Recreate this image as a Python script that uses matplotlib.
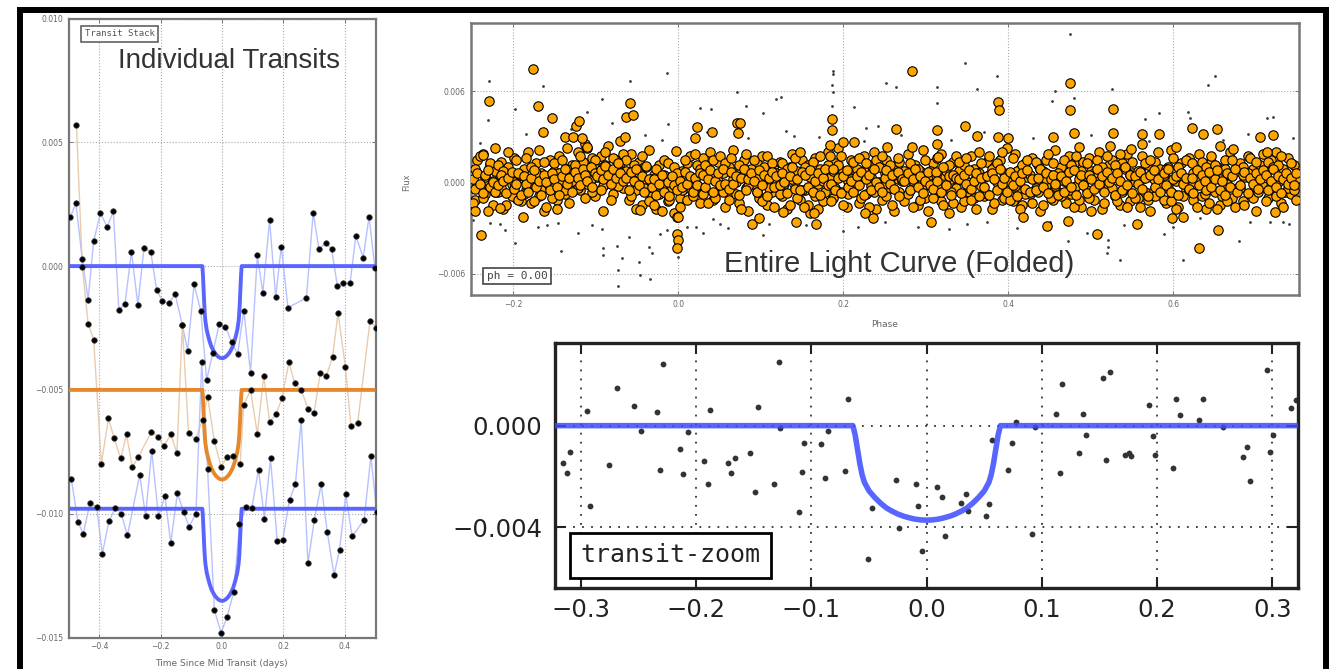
import numpy as np
import matplotlib
matplotlib.use("Agg")
import matplotlib.pyplot as plt
from matplotlib.patches import Rectangle

plt.rcParams['font.family'] = ['DejaVu Sans']
plt.rcParams['axes.unicode_minus'] = True

# ======================= DATA =======================
# --- Left panel: individual transits (flux in units of 1e-3) ---
t1_time = [-0.494, -0.476, -0.455, -0.436, -0.418, -0.396, -0.374, -0.354, -0.336, -0.316,
           -0.295, -0.274, -0.254, -0.232, -0.213, -0.194, -0.172, -0.153, -0.129, -0.112,
           -0.091, -0.069, -0.050, -0.030, -0.009, 0.011, 0.032, 0.051, 0.071, 0.093,
           0.115, 0.133, 0.155, 0.175, 0.193, 0.215, 0.275, 0.297, 0.316, 0.338,
           0.357, 0.376, 0.395, 0.417, 0.436, 0.460, 0.479, 0.498]
t1_flux = [1.97, 2.54, 0.27, -1.35, 1.01, 2.14, 1.58, 2.21, -1.76, -1.52,
           0.57, -1.56, 0.74, 0.57, -0.95, -1.42, -1.51, -1.11, -2.39, -3.42,
           -0.74, -1.82, -4.6, -3.51, -2.33, -2.46, -3.08, -3.55, -1.80, -4.30,
           0.43, -1.08, 1.85, -1.25, 0.79, -1.68, -1.28, 2.16, 0.68, 0.95,
           0.68, -0.81, -0.70, -0.70, 1.22, 0.34, 2.00, -0.07]

t2_time = [-0.474, -0.455, -0.436, -0.418, -0.393, -0.370, -0.351, -0.330, -0.311, -0.292,
           -0.272, -0.230, -0.208, -0.189, -0.167, -0.147, -0.129,
           -0.109, -0.086, -0.063, -0.047, -0.025, -0.003, 0.016, 0.035, 0.059, 0.071,
           0.093, 0.115, 0.136, 0.155, 0.176, 0.195, 0.218, 0.237, 0.258, 0.281,
           0.300, 0.320, 0.340, 0.360, 0.378, 0.402, 0.420, 0.442, 0.482, 0.502]
t2_flux = [5.69, -0.05, -2.33, -2.97, -8.00, -6.15, -6.96, -7.77, -6.80, -8.13,
           -7.70, -6.69, -6.89, -7.27, -6.80, -7.54, -2.39,
           -6.74, -7.00, -6.20, -5.27, -7.06, -8.11, -7.70, -7.68, -8.01, -5.61,
           -5.00, -6.78, -4.43, -6.29, -5.99, -5.34, -3.89, -4.73, -5.00, -5.78,
           -5.94, -4.32, -4.43, -3.69, -1.89, -4.08, -6.46, -6.33, -2.23, -2.49]

t3_time = [-0.491, -0.469, -0.452, -0.430, -0.408, -0.390, -0.368, -0.347, -0.328, -0.308,
           -0.268, -0.249, -0.229, -0.207, -0.186, -0.167, -0.145, -0.125, -0.107, -0.085,
           -0.066, -0.047, -0.025, -0.003, 0.016, 0.038, 0.057, 0.079, 0.097, 0.119,
           0.138, 0.158, 0.180, 0.198, 0.220, 0.239, 0.258, 0.280, 0.301, 0.323,
           0.343, 0.365, 0.383, 0.403, 0.424, 0.463, 0.485, 0.504]
t3_flux = [-8.58, -10.34, -10.81, -9.57, -9.73, -11.62, -10.30, -9.76, -10.00, -10.88,
           -8.42, -10.10, -7.46, -10.10, -9.30, -11.18, -9.16, -9.94, -10.52, -10.00,
           -3.89, -8.18, -13.89, -14.80, -14.19, -13.18, -10.43, -9.73, -9.77, -8.22,
           -10.20, -7.77, -11.11, -11.05, -9.43, -8.82, -6.22, -12.00, -10.24, -8.82,
           -10.75, -12.47, -11.46, -9.22, -10.92, -10.24, -7.68, -9.94]

# transit model profile (fraction of depth)
model_dt = [-0.5, -0.064, -0.062, -0.060, -0.058, -0.056, -0.054, -0.050, -0.045, -0.040,
            -0.035, -0.030, -0.025, -0.020, -0.015, -0.010, -0.005, 0.0, 0.005, 0.010,
            0.015, 0.020, 0.025, 0.030, 0.035, 0.040, 0.045, 0.050, 0.054, 0.056,
            0.058, 0.060, 0.062, 0.064, 0.5]
model_shape = [0, 0, 0.10, 0.25, 0.40, 0.52, 0.60, 0.69, 0.76, 0.82,
               0.87, 0.905, 0.935, 0.958, 0.975, 0.989, 0.997, 1.0, 0.997, 0.989,
               0.975, 0.958, 0.935, 0.905, 0.87, 0.82, 0.76, 0.69, 0.60, 0.52,
               0.40, 0.25, 0.10, 0, 0]
transit_base = [0.0, -5.0, -9.80]      # 1e-3
transit_depth = [3.72, 3.62, 3.72]     # 1e-3
zoom_depth = 3.72                      # 1e-3

# --- Bottom right: transit zoom points (phase days, flux 1e-3) ---
zoom_time = [-0.3154, -0.3125, -0.3096, -0.2951, -0.2922, -0.2754, -0.2690, -0.2539, -0.2481, -0.2342,
             -0.2313, -0.2284, -0.2139, -0.2110, -0.2075, -0.1928, -0.1899, -0.1878, -0.1725, -0.1696,
             -0.1661, -0.1530, -0.1493, -0.1464, -0.1328, -0.1284, -0.1270, -0.1110, -0.1081, -0.1067,
             -0.0913, -0.0884, -0.0855, -0.0710, -0.0681, -0.0507, -0.0472, -0.0270, -0.0241, -0.0096,
             -0.0072, -0.0038, 0.0093, 0.0130, 0.0159, 0.0301, 0.0339, 0.0362, 0.0513, 0.0542,
             0.0565, 0.0710, 0.0739, 0.0779, 0.0913, 0.0942, 0.1122, 0.1156, 0.1174, 0.1324,
             0.1353, 0.1382, 0.1527, 0.1556, 0.1591, 0.1724, 0.1753, 0.1774, 0.1933, 0.1968,
             0.1985, 0.2142, 0.2165, 0.2200, 0.2362, 0.2397, 0.2571, 0.2745, 0.2779, 0.2803,
             0.2953, 0.2977, 0.3006, 0.3165, 0.3209]
zoom_flux = [-1.48, -1.88, -1.02, 0.58, -3.15, -1.55, 1.47, 0.79, -0.21, 0.55,
             -1.75, 2.41, -0.93, -1.90, -0.24, -1.39, -2.31, 0.62, -1.48, -1.85,
             -1.29, -1.09, -2.60, 0.75, -2.31, 2.52, -0.10, -3.41, -1.81, -0.67,
             -0.72, -2.05, -0.20, -1.77, 1.05, -5.26, -3.23, -2.14, -4.04, -2.31,
             -3.15, -4.93, -2.40, -2.80, -4.33, -3.06, -2.70, -3.35, -3.54, -3.08,
             -0.56, -1.75, -0.67, 0.16, -4.28, -0.07, 0.46, -1.88, 1.64, -1.06,
             0.46, -0.37, 1.89, -1.35, 2.10, -1.15, -1.09, -1.19, 0.81, -0.39,
             -1.15, -1.68, 1.05, 0.42, 0.22, 1.05, -0.07, -1.25, -0.83, -2.18,
             2.19, -1.05, -0.37, 0.68, 1.01]

# --- Top right: folded light curve ---
# main orange band: phase in 1e-3; flux samples a,b in units of 1.25e-4, c in 1e-4
lc_phase_blocks = [
    [-249, -246, -244, -240, -237, -234, -230, -228, -225, -222],
    [-218, -215, -212, -209, -206, -202, -199, -197, -194, -191],
    [-187, -184, -182, -178, -175, -172, -169, -166, -163, -160],
    [-156, -153, -151, -147, -144, -141, -137, -135, -132, -129],
    [-125, -122, -119, -116, -113, -110, -106, -104, -101, -98],
    [-94, -91, -89, -85, -82, -79, -75, -73, -70, -67],
    [-63, -60, -57, -54, -51, -48, -44, -42, -39, -36],
    [-32, -29, -27, -23, -20, -17, -13, -11, -8, -5],
    [-1, 2, 4, 8, 11, 14, 18, 20, 23, 26],
    [30, 33, 36, 39, 42, 45, 48, 51, 54, 57],
    [61, 64, 66, 70, 73, 76, 80, 82, 85, 88],
    [92, 95, 98, 101, 104, 107, 110, 113, 116, 119],
    [123, 126, 128, 132, 135, 138, 142, 144, 147, 150],
    [154, 157, 160, 163, 166, 169, 172, 175, 178, 181],
    [185, 188, 190, 194, 197, 200, 204, 206, 209, 212],
    [216, 219, 222, 225, 228, 231, 234, 237, 240, 243],
    [247, 250, 252, 256, 259, 262, 266, 268, 271, 274],
    [278, 281, 284, 287, 290, 293, 296, 299, 302, 305],
    [309, 312, 314, 318, 321, 324, 328, 330, 333, 336],
    [340, 343, 346, 349, 352, 355, 358, 361, 364, 367],
    [371, 374, 376, 380, 383, 386, 390, 392, 395, 398],
    [402, 405, 408, 411, 414, 417, 420, 423, 426, 429],
    [433, 436, 438, 442, 445, 448, 452, 454, 457, 460],
    [464, 467, 470, 473, 476, 479, 482, 485, 488, 491],
    [495, 498, 500, 504, 507, 510, 514, 516, 519, 522],
    [526, 529, 532, 535, 538, 541, 544, 547, 550, 553],
    [557, 560, 562, 566, 569, 572, 576, 578, 581, 584],
    [588, 591, 594, 597, 600, 603, 606, 609, 612, 615],
    [619, 622, 624, 628, 631, 634, 638, 640, 643, 646],
    [650, 653, 656, 659, 662, 665, 668, 671, 674, 677],
    [681, 684, 686, 690, 693, 696, 700, 702, 705, 708],
    [712, 715, 718, 721, 724, 727, 730, 733, 736, 739],
    [743, 746, 748]]
lc_flux_a_blocks = [
    [4, -9, 12, -3, 15, -6, 1, 9, -12, 6], [-5, 11, -14, 3, 8, -1, 13, -8, 2, -10],
    [7, -4, 16, -11, 0, 10, -7, 5, -15, 3], [12, -2, 6, -9, 14, 1, -6, 18, -3, 9],
    [5, 16, -4, 11, 20, -1, 8, 13, -7, 3], [14, -2, 9, 19, 4, -6, 12, 7, 22, -3],
    [6, -9, 15, 2, -4, 11, -12, 8, 0, 17], [-7, 4, -14, 9, -2, 12, -10, -5, 3, -16],
    [-18, -8, 6, -3, 10, 14, -6, 2, 9, -11], [13, -4, 7, 16, -9, 3, 11, -2, 5, -13],
    [8, -6, 17, 0, -11, 6, 12, -3, -15, 4], [-1, 10, -8, 14, 2, -12, 7, -5, 9, 1],
    [11, -7, 3, -14, 8, 15, -2, 6, -9, 12], [-4, 9, -16, 5, 13, -1, 7, -10, 2, 16],
    [3, -8, 10, 18, -5, 6, -13, 1, 12, -3], [7, -11, 4, 14, -6, 9, -2, 16, -14, 0],
    [-9, 5, 12, -3, 8, -15, 2, 11, -7, 6], [15, -4, 1, 9, -12, 6, 17, -8, 3, -1],
    [10, -6, 13, -10, 4, 8, -16, 2, 11, -3], [6, -13, 9, 1, -5, 14, -8, 3, 16, -2],
    [-7, 11, 4, -14, 8, 0, 12, -9, 5, 18], [2, -10, 15, -4, 7, -12, 10, 3, -6, 13],
    [-3, 9, -15, 6, 12, -1, 4, -9, 17, -5], [8, 1, -11, 14, -6, 10, -2, 5, -13, 11],
    [-4, 13, 6, -9, 2, 16, -14, 7, -1, 9], [12, -7, 3, -12, 10, -3, 15, -10, 5, 0],
    [-8, 6, 14, -5, 9, -15, 2, 11, -2, 7], [4, -11, 8, 17, -6, 1, -13, 10, 3, -4],
    [13, -2, -9, 6, 15, -7, 9, -14, 2, 11], [-5, 8, -12, 4, 12, -1, 16, -8, 6, -3],
    [10, -10, 3, 14, -6, 7, -15, 1, 9, -2], [5, -8, 12, -4, 16, 0, -11, 7, -5, 13],
    [-6, 9, 2]]
lc_flux_b_blocks = [
    [-11, 7, -2, 14, -8, 3, -15, 10, 1, -5], [9, -3, 6, -12, 16, -7, 0, 12, -9, 4],
    [-6, 13, -1, 8, -10, 5, 17, -4, 11, -13], [2, -8, 10, -14, 5, 12, -4, 7, -11, 1],
    [9, -3, 14, 6, -8, 18, 2, -5, 12, 7], [-4, 8, 16, 2, -9, 13, 6, -2, 10, 15],
    [12, 3, -7, 9, -14, 5, 14, -3, 8, -10], [2, -12, 7, -6, -15, 4, 10, -9, -3, 8],
    [5, -13, -4, 12, -9, 3, -7, 15, -2, 7], [-6, 9, -11, 4, 12, -8, 1, 14, -5, 10],
    [-9, 13, 2, -6, 9, -14, 4, 15, -2, 7], [12, -5, 3, -10, 8, 14, -3, 10, -13, 5],
    [-6, 10, -1, 7, -12, 2, 13, -8, 16, -4], [8, -12, 3, 11, -7, -14, 14, 1, -5, 9],
    [-10, 6, -3, 9, 14, -12, 5, -6, 2, 11], [-2, 13, -8, 6, 10, -13, 3, -5, 12, 8],
    [14, -1, -7, 9, -12, 4, 13, -5, 1, -10], [-6, 10, -13, 3, 7, -9, -2, 12, -15, 6],
    [-8, 4, -2, 15, -12, 6, 9, -5, -11, 14], [11, 2, -10, 13, -3, -9, 7, -14, 5, 10],
    [3, -6, 14, 7, -11, 10, -3, 16, -8, 1], [-9, 13, -2, 6, -14, 9, -6, 12, 4, -11],
    [11, -5, 7, -12, 2, 15, -8, 10, -2, 5], [-7, 12, 4, -4, 9, -13, 14, -9, 6, -1],
    [10, -8, -15, 5, 12, -2, 8, -11, 14, 3], [-3, 9, -10, 15, -5, 7, -13, 4, 11, -8],
    [6, -13, 2, 10, -9, 12, -4, -7, 16, -1], [-9, 7, -3, -10, 13, -14, 8, 3, -7, 12],
    [-4, 10, 5, -13, 3, 11, -6, 8, -11, 14], [9, -14, 2, -7, 7, -10, 4, 12, -13, 6],
    [-3, 8, -12, 5, 13, -8, 11, -5, 3, 15], [-10, 11, -2, 8, -7, 9, 14, -13, 4, -3],
    [10, -4, -9]]
lc_flux_c_blocks = [
    [2, -4, 6, -1, -7, 5, 8, -3, 0, -6], [-2, 5, 1, -7, 3, 7, -4, -1, 6, -8],
    [4, -1, -6, 3, 8, -3, 1, -8, 5, 0], [-5, 6, 2, -3, -8, 4, 9, -1, 3, -6],
    [7, 3, -2, 9, 5, 1, 10, -3, 6, 4], [8, 2, 11, 5, -1, 9, 3, 13, 6, 1],
    [3, -5, 7, 1, 9, -2, 4, -6, 11, 2], [-3, 2, -8, -1, 5, -6, 0, -9, 4, -2],
    [-5, 1, -3, 7, -1, 4, -6, 3, -2, 6], [5, -3, 2, 8, -6, 1, 6, -2, 9, -1],
    [-4, 7, -1, 4, -8, 3, 9, -5, 2, 6], [1, -6, 8, -2, 5, -9, 3, 7, -3, 4],
    [-2, 6, 0, -7, 4, 10, -4, 2, -5, 7], [5, -3, 8, -6, 1, 6, -8, 3, 9, -2],
    [-1, 9, -5, 3, -7, 4, 8, -3, 1, -6], [4, -2, 7, -8, 2, 5, -5, 9, 0, -3],
    [-6, 3, 8, -1, 5, -4, 7, -9, 2, 1], [6, -5, 2, 9, -3, 4, -7, 1, 7, -2],
    [-4, 7, 1, -6, 10, -2, 4, -8, 5, 3], [2, -7, 5, -1, 8, -4, 1, 6, -9, 3],
    [-3, 4, -8, 6, 2, -5, 9, -1, 3, -6], [7, -2, 4, -9, 1, 6, -4, 8, -6, 2],
    [-5, 3, 9, -3, 6, -7, 2, 5, -1, -8], [4, -6, 1, 7, -3, 8, -8, 2, 5, -2],
    [-7, 5, 2, -4, 9, -1, 4, -6, 7, 0], [3, -8, 6, 1, -5, 10, -2, 5, -7, 4],
    [-1, 7, -4, 3, -9, 5, 8, -3, 2, -6], [6, -2, 9, -6, 2, 4, -8, 6, -1, 3],
    [-4, 3, -7, 8, -2, 5, 1, -5, 7, -3], [2, 8, -5, 1, -8, 6, -3, 4, 9, -6],
    [-2, 5, 7, -7, 3, -1, 6, -4, 2, 8], [5, -5, 1, 9, -3, 4, -7, 2, 6, -1],
    [3, -2, 6]]

# orange outliers (phase, flux 1e-3)
lc_out_phase = [-0.1765, -0.2295, -0.1697, -0.1535, -0.1644, -0.2392, -0.2465, -0.0585, -0.0634, -0.0553,
                -0.0646, -0.124, -0.120, -0.137, -0.127, -0.117, -0.111, 0.0, -0.001, 0.0,
                -0.002, 0.0223, 0.020, -0.003, -0.222, -0.236, -0.046, -0.091, -0.1886, -0.216,
                0.0405, 0.071,
                0.283, 0.186, 0.186, 0.184, 0.184, 0.0748, 0.0727, 0.200, 0.213, 0.264,
                0.313, 0.313, 0.315, 0.3475, 0.3617, 0.388, 0.389, 0.388, 0.400, 0.283,
                0.2526, 0.089, 0.098, 0.1427, 0.167, 0.226, 0.2356, 0.306, 0.4175, 0.127,
                0.152, 0.164,
                0.4748, 0.4748, 0.527, 0.479, 0.4545, 0.527, 0.5617, 0.582, 0.622, 0.636,
                0.653, 0.705, 0.721, 0.4855, 0.523, 0.548, 0.562, 0.603, 0.656, 0.672,
                0.713, 0.6315, 0.6545, 0.4465, 0.4727, 0.507, 0.5556, 0.598, 0.612, 0.723]
lc_out_flux = [7.45, 5.35, 5.02, 4.25, 3.33, -3.47, -1.87, 5.24, 4.32, 4.43,
               3.0, 3.70, 4.03, 3.0, 2.96, 2.89, 2.34, -2.30, -3.36, -3.80,
               -4.30, 3.62, 2.89, 2.06, 2.28, 1.80, -1.82, -1.87, -2.26, -1.71,
               3.33, 3.88,
               7.32, 4.2, 3.44, 2.45, 1.73, 3.88, 3.22, 2.67, 2.67, 3.49,
               3.44, 2.52, 1.68, 3.70, 3.05, 5.30, 4.76, 3.0, 2.89, 2.34,
               2.34, -2.74, -2.37, -2.59, -2.74, -2.04, -2.37, -2.59, -2.26, -1.93,
               -1.61, -2.04,
               6.51, 4.76, 4.80, 3.22, 3.0, 3.22, 3.18, 3.18, 3.55, 3.18,
               3.49, 3.0, 3.11, 2.3, 2.4, 2.2, 2.5, 2.3, 2.4, 2.2,
               2.01, -4.34, -3.14, -2.88, -2.55, -3.36, -2.74, -2.37, -2.26, -1.93]

# small grey points (phase, flux 1e-3)
lc_grey_phase = [-0.229, -0.164, -0.0585, -0.014, -0.093, -0.111, -0.198, -0.230, 0.026, 0.040,
                 0.071, -0.012, -0.228, -0.216, -0.198, -0.1426, -0.121, -0.093, -0.091, -0.091,
                 -0.0686, -0.0747, -0.0727, -0.0727, -0.046, -0.034, -0.036, -0.032, -0.048, -0.022,
                 -0.014, 0.0, 0.030, 0.022, 0.051, 0.042, -0.1595, -0.1455, -0.2485,
                 0.187, 0.188, 0.3475, 0.2518, 0.264, 0.314, 0.386, 0.3617, 0.188, 0.1245,
                 0.119, 0.082, 0.213, 0.103, 0.314, 0.2275, 0.2417, 0.140, 0.103, 0.218,
                 0.3285, 0.3738, 0.0788,
                 0.4748, 0.6506, 0.6424, 0.4566, 0.4526, 0.5253, 0.4797, 0.582, 0.566, 0.618,
                 0.620, 0.713, 0.721, 0.535, 0.521, 0.521, 0.519, 0.4727, 0.612, 0.679,
                 0.693, 0.717, 0.733, 0.588, 0.495, 0.632,
                 -0.24, -0.21, -0.185, -0.17, -0.13, -0.105, -0.08, -0.06, -0.04, -0.02,
                 0.01, 0.035, 0.06, 0.085, 0.11, 0.13, 0.155, 0.17, 0.2, 0.225,
                 0.25, 0.27, 0.29, 0.33, 0.35, 0.37, 0.41, 0.43, 0.45, 0.5,
                 0.54, 0.57, 0.6, 0.66, 0.69, 0.74, 0.745, 0.186, 0.186]
lc_grey_flux = [6.66, 6.34, 6.66, 7.17, 5.46, 4.64, 4.80, 4.10, 4.87, 4.80,
                5.96, 3.84, -2.66, -2.70, -3.97, -4.52, -3.32, -3.03, -4.34, -4.78,
                -5.0, -4.19, -5.77, -6.82, -6.10, -6.38, -4.24, -4.67, -5.22, -3.36,
                -3.14, -4.89, -3.32, -2.92, -2.70, -2.43, -2.81, -2.66, -2.48,
                7.32, 7.10, 7.87, 6.55, 6.29, 6.29, 6.99, 6.12, 5.96, 5.63,
                5.46, 5.02, 4.93, 4.54, 5.24, 3.55, 3.70, 3.05, -3.47, -2.92,
                -3.09, -2.59, -1.93,
                9.76, 6.99, 6.40, 6.03, 5.37, 6.12, 5.53, 4.54, 4.14, 4.64,
                4.21, 4.21, 4.32, -5.07, -3.80, -4.24, -4.67, -3.84, -5.07, -3.84,
                -2.59, -2.59, -2.59, -3.36, -3.32, -2.37,
                2.6, -3.1, 3.2, -2.9, 3.5, -2.8, 3.9, -3.6, 3.1, 2.8,
                -2.9, 3.3, -3.0, 2.9, -2.7, 3.4, -2.8, 3.0, -3.2, 2.7,
                -2.6, 3.1, -2.9, 2.8, -2.7, 3.3, -3.0, 2.9, -2.6, 3.1,
                -2.8, 2.7, -2.9, 2.8, 3.2, -2.7, 2.9, 6.4, 5.0]

# ======================= FIGURE =======================
W, H = 1334, 669
fig = plt.figure(figsize=(W / 100, H / 100), dpi=100)
fig.patch.set_facecolor('white')


def px_axes(l, t, r, b):
    return fig.add_axes([l / W, 1 - b / H, (r - l) / W, (b - t) / H])


def fxy(x, y):
    return x / W, 1 - y / H


def pair(a, b):
    n = min(len(a), len(b))
    return np.asarray(a[:n], float), np.asarray(b[:n], float)


def model_curve(base, depth):
    dt = np.asarray(model_dt)
    return dt, (base - depth * np.asarray(model_shape)) * 1e-3


# outer black frame
fig.add_artist(Rectangle(fxy(19.7, 700), (1326 - 19.7) / W, (700 - 10.2) / H,
                         transform=fig.transFigure, fill=False, ec='black',
                         lw=4.3, joinstyle='miter', clip_on=False))

grey_txt = '#666666'

# ---------------- left panel ----------------
ax1 = px_axes(68.5, 18.5, 375.5, 637.5)
ax1.set_xlim(-0.5, 0.5)
ax1.set_ylim(-0.015, 0.010)
ax1.set_xticks([-0.4, -0.2, 0.0, 0.2, 0.4])
ax1.set_yticks([-0.015, -0.010, -0.005, 0.0, 0.005, 0.010])
ax1.tick_params(labelsize=5.5, colors=grey_txt, direction='in', length=3, width=0.6,
                top=True, right=True)
for s in ax1.spines.values():
    s.set_color('#777777')
    s.set_linewidth(1.6)
ax1.grid(True, ls=':', color='#aaaaaa', lw=0.8)
ax1.set_axisbelow(True)

series = [(t1_time, t1_flux, '#a9b7ff', '#5a64ff'),
          (t2_time, t2_flux, '#e6c3a0', '#e5882c'),
          (t3_time, t3_flux, '#a9b7ff', '#5a64ff')]
for k, (tt, ff, lc, mc) in enumerate(series):
    x, y = pair(tt, ff)
    ax1.plot(x, y * 1e-3, '-', color=lc, lw=1.0, alpha=0.85, zorder=2)
    mx, my = model_curve(transit_base[k], transit_depth[k])
    ax1.plot(mx, my, '-', color=mc, lw=2.8, zorder=3, solid_capstyle='butt')
    ax1.plot(x, y * 1e-3, 'o', ls='none', ms=4.0, mfc='black', mec='#444444',
             mew=0.5, zorder=4)

fig.text(*fxy(221, 663), 'Time Since Mid Transit (days)', fontsize=6.5, color=grey_txt,
         ha='center', va='center')
fig.text(*fxy(229, 68.3), 'Individual Transits', fontsize=20, color='#333333',
         family='Liberation Sans', ha='center', va='baseline')
fig.text(*fxy(119.5, 34), 'Transit Stack', fontsize=6.5, color='#555555',
         family='DejaVu Sans Mono', ha='center', va='center',
         bbox=dict(boxstyle='square,pad=0.35', fc='white', ec='#555555', lw=1.1))

# ---------------- top right panel ----------------
ax2 = px_axes(470.7, 23.3, 1299.3, 295)
ax2.set_xlim(-0.2515, 0.7525)
ax2.set_ylim(-0.0074, 0.01046)
ax2.set_xticks([-0.2, 0.0, 0.2, 0.4, 0.6])
ax2.set_yticks([-0.006, 0.0, 0.006])
ax2.tick_params(labelsize=5.5, colors=grey_txt, direction='in', length=3, width=0.6,
                top=True, right=True)
for s in ax2.spines.values():
    s.set_color('#777777')
    s.set_linewidth(1.8)
ax2.grid(True, ls=':', color='#aaaaaa', lw=0.8)
ax2.set_axisbelow(True)

ph_band = []
fa, fb, fc = [], [], []
for pb, a, b, c in zip(lc_phase_blocks, lc_flux_a_blocks, lc_flux_b_blocks, lc_flux_c_blocks):
    n = min(len(pb), len(a), len(b), len(c))
    ph_band += pb[:n]
    fa += a[:n]
    fb += b[:n]
    fc += c[:n]
ph_band = np.asarray(ph_band, float) * 1e-3

gx, gy = pair(lc_grey_phase, lc_grey_flux)
ax2.plot(gx, gy * 1e-3, 'o', ls='none', ms=2.0, color='#3a3a3a', mew=0, zorder=2)
for ff, unit in ((fa, 1.25e-4), (fb, 1.25e-4), (fc, 1e-4)):
    ax2.plot(ph_band, np.asarray(ff, float) * unit, 'o', ls='none', ms=6.8,
             mfc='#ffa500', mec='black', mew=0.8, zorder=3)
ox, oy = pair(lc_out_phase, lc_out_flux)
ax2.plot(ox, oy * 1e-3, 'o', ls='none', ms=6.8, mfc='#ffa500', mec='black', mew=0.8,
         zorder=3)

fig.text(*fxy(407, 182), 'Flux', fontsize=6, color=grey_txt, rotation=90,
         ha='center', va='center')
fig.text(*fxy(885, 325), 'Phase', fontsize=6.5, color=grey_txt, ha='center', va='center')
fig.text(*fxy(899, 271.7), 'Entire Light Curve (Folded)', fontsize=21, color='#333333',
         family='Liberation Sans', ha='center', va='baseline', zorder=10)
fig.text(*fxy(517, 276), 'ph = 0.00', fontsize=8, color='#444444',
         family='DejaVu Sans Mono', ha='center', va='center', zorder=10,
         bbox=dict(boxstyle='square,pad=0.3', fc='white', ec='#444444', lw=1.2))

# ---------------- bottom right panel ----------------
ax3 = px_axes(555, 343.3, 1298.3, 588.3)
ax3.set_xlim(-0.3225, 0.3225)
ax3.set_ylim(-0.0064, 0.00324)
ax3.set_xticks([-0.3, -0.2, -0.1, 0.0, 0.1, 0.2, 0.3])
ax3.set_yticks([-0.004, 0.0])
ax3.tick_params(labelsize=17.5, colors='#222222', direction='in', length=8, width=1.5,
                top=True, right=True)
ax3.tick_params(axis='y', pad=9)
ax3.tick_params(axis='x', pad=7)
for s in ax3.spines.values():
    s.set_color('#222222')
    s.set_linewidth(2.4)
ax3.grid(True, color='#333333', ls=(0, (1, 4)), lw=1.3)
ax3.set_axisbelow(True)

zx, zy = pair(zoom_time, zoom_flux)
ax3.plot(zx, zy * 1e-3, 'o', ls='none', ms=4.2, color='#333333', mew=0, zorder=2)
mx, my = model_curve(0.0, zoom_depth)
ax3.plot(mx, my, '-', color='#3b4bff', lw=4.0, alpha=0.85, zorder=3)

fig.text(*fxy(670, 555), 'transit-zoom', fontsize=18, color='#222222',
         family='DejaVu Sans Mono', ha='center', va='center', zorder=10,
         bbox=dict(boxstyle='square,pad=0.42', fc='white', ec='black', lw=2.0))

fig.savefig('out.png', dpi=100, facecolor='white')
